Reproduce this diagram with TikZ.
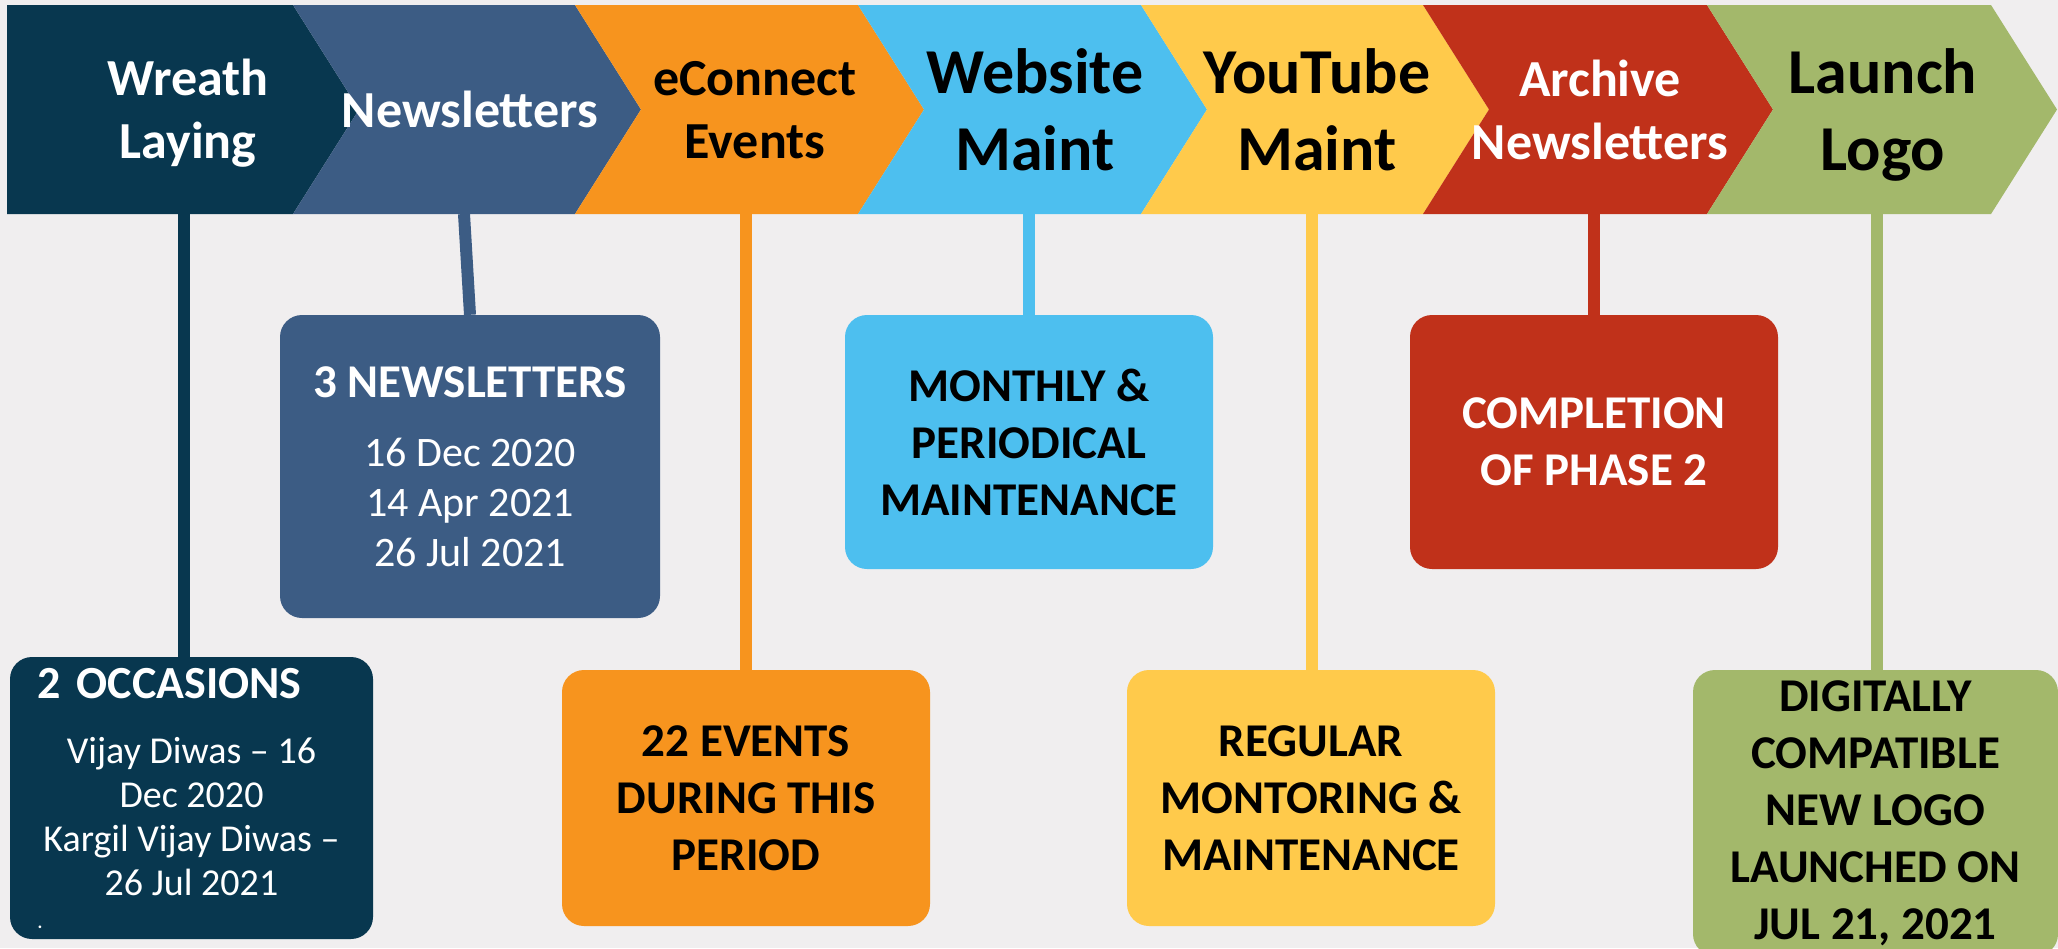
\documentclass[tikz,border=0pt]{standalone}
\usepackage{fontspec}
\setmainfont{Carlito}
\usetikzlibrary{positioning}
\definecolor{cbg}{RGB}{240,238,239}
\definecolor{cwreath}{RGB}{8,55,79}
\definecolor{cnews}{RGB}{60,92,132}
\definecolor{cevents}{RGB}{247,148,30}
\definecolor{cweb}{RGB}{77,191,239}
\definecolor{ctube}{RGB}{255,202,75}
\definecolor{carch}{RGB}{192,49,26}
\definecolor{clogo}{RGB}{163,184,107}
\tikzset{
  chevsmall/.style={font=\fontsize{52}{63}\selectfont\bfseries},
  chevbig/.style={font=\fontsize{64}{77}\selectfont\bfseries},
  infobox/.style={rounded corners=22pt, inner sep=0pt, align=center,
    font=\fontsize{47}{57}\selectfont\bfseries},
  conn/.style={line width=12pt, draw=#1},
}

\begin{document}
\begin{tikzpicture}[x=1pt,y=-1pt]
  \useasboundingbox (0,0) rectangle (2058,948);
  \clip (0,0) rectangle (2058,948);
  \fill[cbg] (0,0) rectangle (2058,948);
  \foreach \i/\xl/\xr/\nd/\col/\tc/\sz/\tx/\ty/\cx/\lbl in {
      1/7/293/0/cwreath/white/chevsmall/188/158/184/{Wreath\\Laying},
      2/293/575/66/cnews/white/chevsmall/470/127/464/{Newsletters},
      3/575/858/66/cevents/black/chevsmall/755/158/746/{eConnect\\Events},
      4/858/1141/66/cweb/black/chevbig/1035/170/1029/{Website\\Maint},
      5/1141/1423/66/ctube/black/chevbig/1317/170/1312/{YouTube\\Maint},
      6/1423/1707/66/carch/white/chevsmall/1600/159/1594/{Archive\\Newsletters},
      7/1707/1991/66/clogo/black/chevbig/1883/170/1877/{Launch\\Logo}}
  {
    \fill[\col] (\xl,5) -- (\xr,5) -- (\xr+66,109.5) -- (\xr,214)
      -- (\xl,214) -- (\xl+\nd,109.5) -- cycle;
    \node[\sz, text=\tc, anchor=base, align=center, inner sep=0pt] (t\i) at (\tx,\ty) {\lbl};
    \coordinate (c\i) at (\cx,214);
  }

  \node[infobox, fill=cwreath, text=white, minimum width=363pt, minimum height=282pt,
        text width=308pt] (occasions) at (191.5,798)
    {\spaceskip=0pt \xspaceskip=0pt
     {\raggedright\fontsize{46}{56}\selectfont 2\hspace{16pt}OCCASIONS\par}\vspace{21pt}
     {\centering\fontsize{38}{44}\selectfont\mdseries Vijay Diwas – 16\\ Dec 2020\\ Kargil Vijay Diwas –\\ 26 Jul 2021\par}
     {\raggedright\fontsize{18}{33}\selectfont .\par}};
  \node[infobox, fill=cnews, text=white, minimum width=380pt, minimum height=303pt,
        font=\fontsize{42}{50}\selectfont] (letters) at (470,466.5)
    {{\fontsize{47}{57}\selectfont\bfseries 3 NEWSLETTERS}\\[19pt] 16 Dec 2020\\ 14 Apr 2021\\ 26 Jul 2021};
  \node[infobox, fill=cevents, minimum width=368pt, minimum height=256pt] (events) at (746,798)
    {22 EVENTS\\DURING THIS\\PERIOD};
  \node[infobox, fill=cweb, minimum width=368pt, minimum height=254pt] (webmaint) at (1029,442)
    {MONTHLY \&\\PERIODICAL\\MAINTENANCE};
  \node[infobox, fill=ctube, minimum width=368pt, minimum height=256pt] (ytmaint) at (1311,798)
    {REGULAR\\MONTORING \&\\MAINTENANCE};
  \node[infobox, fill=carch, text=white, minimum width=368pt, minimum height=254pt] (archive) at (1594,442)
    {COMPLETION\\OF PHASE 2};
  \node[infobox, fill=clogo, minimum width=365pt, minimum height=286pt] (logo) at (1875.5,813)
    {DIGITALLY\\COMPATIBLE\\NEW LOGO\\LAUNCHED ON\\JUL 21, 2021};

  \foreach \a/\b/\col in {c1/occasions/cwreath, c3/events/cevents, c4/webmaint/cweb,
      c5/ytmaint/ctube, c6/archive/carch, c7/logo/clogo}
    \draw[conn=\col] (\a) -- (\a |- \b.north);
  \draw[conn=cnews] (c2) -- (letters.north);
\end{tikzpicture}
\end{document}
